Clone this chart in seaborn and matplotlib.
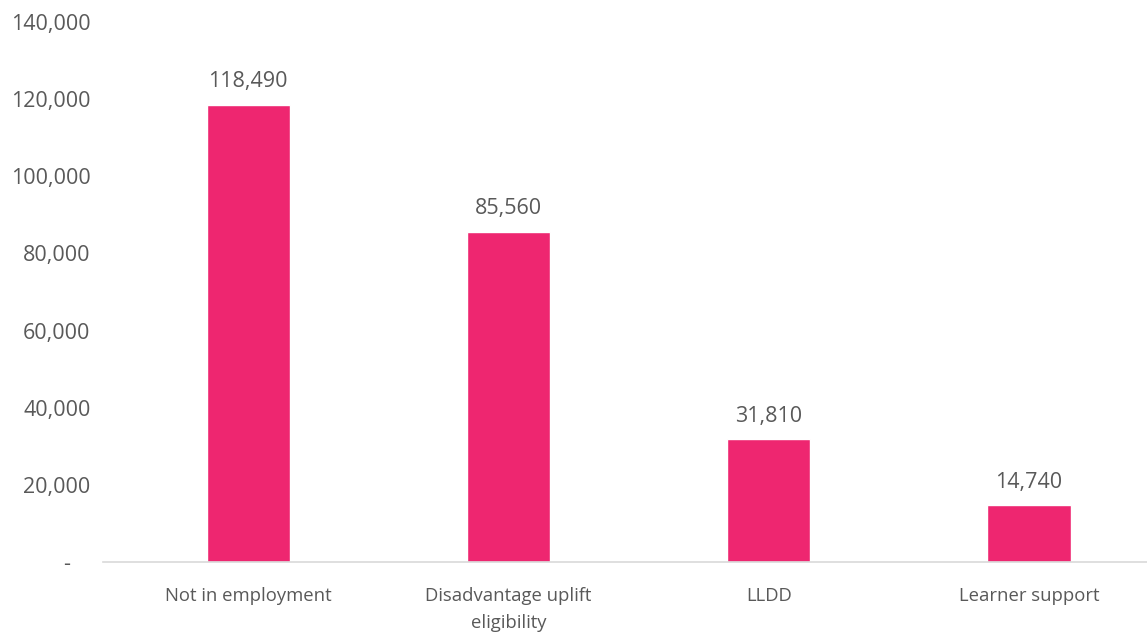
import matplotlib
matplotlib.use("Agg")
import matplotlib.pyplot as plt
import matplotlib.transforms as mtrans
import seaborn as sns
import pandas as pd
from matplotlib.ticker import FuncFormatter

categories = ["Not in employment", "Disadvantage uplift\neligibility", "LLDD", "Learner support"]
values = [118490, 85560, 31810, 14740]
yticks = [0, 20000, 40000, 60000, 80000, 100000, 120000, 140000]

sns.set_theme(style="white")
plt.rcParams['font.family'] = ['Open Sans', 'DejaVu Sans']
text_color = "#595959"

df = pd.DataFrame({"cat": categories, "val": values})
fig = plt.figure(figsize=(11.47, 6.34), dpi=100)
ax = fig.add_axes([0.0898, 0.1136, 0.9102, 0.8517])
sns.barplot(data=df, x="cat", y="val", color="#EE2670", width=0.32, saturation=1, ax=ax)

ax.set_ylim(0, 140000)
ax.set_xlim(-0.558, 3.453)
ax.set_yticks(yticks)
ax.yaxis.set_major_formatter(FuncFormatter(lambda v, p: "-" if v == 0 else f"{int(v):,}"))
ax.set_xlabel("")
ax.set_ylabel("")
for s in ["top", "right", "left"]:
    ax.spines[s].set_visible(False)
ax.spines["bottom"].set_color("#D9D9D9")
ax.spines["bottom"].set_linewidth(1.2)
ax.tick_params(axis="y", length=0, labelsize=15.5, labelcolor=text_color, pad=9)
ax.tick_params(axis="x", length=0, labelsize=13.3, labelcolor=text_color, pad=18)
fig.canvas.draw()
ylabels = ax.get_yticklabels()
ylabels[0].set_transform(ylabels[0].get_transform() +
                         mtrans.ScaledTranslation(-20 / 100, 0, fig.dpi_scale_trans))
for lbl in ax.get_xticklabels():
    lbl.set_linespacing(1.65)

for c in ax.containers:
    ax.bar_label(c, labels=[f"{v:,}" for v in values], padding=9, fontsize=15.5, color=text_color)

fig.savefig("out.png", dpi=100)
